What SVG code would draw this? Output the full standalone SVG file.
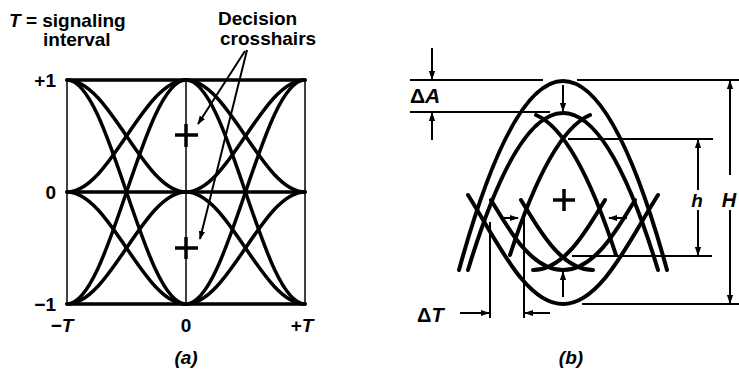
<svg xmlns="http://www.w3.org/2000/svg" width="739" height="370" viewBox="0 0 739 370">
<defs>
<style>
.t{font-family:"Liberation Sans",Arial,sans-serif;font-weight:bold;fill:#000}
.it{font-style:italic}
.c{fill:none;stroke:#000;stroke-width:3.5;stroke-linecap:round}
.cb{fill:none;stroke:#000;stroke-width:4;stroke-linecap:round}
.ln{fill:none;stroke:#000;stroke-width:2}
.thin{fill:none;stroke:#000;stroke-width:1.5}
.ch{fill:none;stroke:#000;stroke-width:3.5}
</style>
<marker id="ah2" viewBox="0 0 10 10" refX="9" refY="5" markerWidth="9" markerHeight="9" orient="auto-start-reverse" markerUnits="userSpaceOnUse">
<path d="M0,1.5 L10,5 L0,8.5 z" fill="#000"/>
</marker>
</defs>
<rect width="739" height="370" fill="#fff"/>

<g id="panel-a">
<g id="a-frame">
<line class="thin" x1="67" y1="80" x2="67" y2="304"/>
<line class="thin" x1="305" y1="80" x2="305" y2="304"/>
<line class="thin" x1="186" y1="80" x2="186" y2="304"/>
<line class="c" x1="67" y1="80" x2="305" y2="80"/>
<line class="c" x1="67" y1="192" x2="305" y2="192"/>
<line class="c" x1="67" y1="304" x2="305" y2="304"/>
</g>
<g id="a-traces">
<path class="c" d="M67,80 C110,80 143,192 186,192"/>
<path class="c" d="M67,80 C110,80 143,304 186,304"/>
<path class="c" d="M67,192 C110,192 143,80 186,80"/>
<path class="c" d="M67,192 C110,192 143,304 186,304"/>
<path class="c" d="M67,304 C110,304 143,80 186,80"/>
<path class="c" d="M67,304 C110,304 143,192 186,192"/>
<path class="c" d="M186,80 C229,80 262,192 305,192"/>
<path class="c" d="M186,80 C229,80 262,304 305,304"/>
<path class="c" d="M186,192 C229,192 262,80 305,80"/>
<path class="c" d="M186,192 C229,192 262,304 305,304"/>
<path class="c" d="M186,304 C229,304 262,80 305,80"/>
<path class="c" d="M186,304 C229,304 262,192 305,192"/>
</g>
<g id="a-crosshair-upper">
<line class="ch" x1="175" y1="135" x2="198" y2="135"/>
<line class="ch" x1="186" y1="124" x2="186" y2="147"/>
</g>
<g id="a-crosshair-lower">
<line class="ch" x1="175" y1="248" x2="198" y2="248"/>
<line class="ch" x1="186" y1="237" x2="186" y2="259"/>
</g>
<g id="a-pointers">
<line class="ln" x1="245" y1="51" x2="198" y2="124" marker-end="url(#ah2)"/>
<line class="ln" x1="247" y1="50" x2="200" y2="239" marker-end="url(#ah2)"/>
</g>
<g id="a-labels">
<text class="t" x="9" y="27" font-size="19"><tspan class="it">T</tspan> = signaling</text>
<text class="t" x="43" y="46" font-size="19">interval</text>
<text class="t" x="218" y="25" font-size="19">Decision</text>
<text class="t" x="220" y="45" font-size="19">crosshairs</text>
<text class="t" x="56" y="87" font-size="19" text-anchor="end">+1</text>
<text class="t" x="56" y="199" font-size="19" text-anchor="end">0</text>
<text class="t" x="56" y="311" font-size="19" text-anchor="end">−1</text>
<text class="t" x="62" y="332" font-size="19" text-anchor="middle">−<tspan class="it">T</tspan></text>
<text class="t" x="186" y="332" font-size="19" text-anchor="middle">0</text>
<text class="t" x="302" y="332" font-size="19" text-anchor="middle">+<tspan class="it">T</tspan></text>
<text class="t it" x="186" y="364" font-size="19" text-anchor="middle">(a)</text>
</g>
</g>

<g id="panel-b">
<g id="b-traces">
<path class="cb" d="M459,270 Q563,-108 667,270"/>
<path class="cb" d="M468,270 Q563,-44 658,270"/>
<path class="cb" d="M536,115 Q576,132 616,255"/>
<path class="cb" d="M590,115 Q550,132 510,255"/>
<path class="cb" d="M468,195 C496,239 525,304 563,304 C601,304 630,239 658,195"/>
<path class="cb" d="M491,200 C507,226 530,270 563,270 C596,270 619,226 635,200"/>
<path class="cb" d="M533,270 C566,270 589,226 605,200"/>
<path class="cb" d="M593,270 C560,270 537,226 521,200"/>
</g>
<g id="b-crosshair">
<line class="ch" x1="553" y1="200" x2="575" y2="200"/>
<line class="ch" x1="564" y1="189" x2="564" y2="211"/>
</g>
<g id="b-dimension-lines">
<line class="ln" x1="410" y1="80" x2="543" y2="80"/>
<line class="ln" x1="577" y1="80" x2="739" y2="80"/>
<line class="ln" x1="410" y1="112" x2="550" y2="112"/>
<line class="ln" x1="568" y1="139" x2="713" y2="139"/>
<line class="ln" x1="572" y1="256" x2="712" y2="256"/>
<line class="ln" x1="582" y1="304" x2="739" y2="304"/>
<line class="ln" x1="490" y1="222" x2="490" y2="318"/>
<line class="ln" x1="524" y1="216" x2="524" y2="318"/>
</g>
<g id="b-arrows">
<line class="ln" x1="432" y1="48" x2="432" y2="79" marker-end="url(#ah2)"/>
<line class="ln" x1="432" y1="140" x2="432" y2="113" marker-end="url(#ah2)"/>
<line class="ln" x1="563" y1="85" x2="563" y2="111" marker-end="url(#ah2)"/>
<line class="ln" x1="698" y1="190" x2="698" y2="140" marker-end="url(#ah2)"/>
<line class="ln" x1="698" y1="210" x2="698" y2="255" marker-end="url(#ah2)"/>
<line class="ln" x1="730" y1="175" x2="730" y2="81" marker-end="url(#ah2)"/>
<line class="ln" x1="730" y1="210" x2="730" y2="303" marker-end="url(#ah2)"/>
<line class="ln" x1="460" y1="313" x2="489" y2="313" marker-end="url(#ah2)"/>
<line class="ln" x1="550" y1="313" x2="525" y2="313" marker-end="url(#ah2)"/>
<line class="ln" x1="500" y1="218" x2="518" y2="218" marker-end="url(#ah2)"/>
<line class="ln" x1="627" y1="218" x2="609" y2="218" marker-end="url(#ah2)"/>
<line class="ln" x1="563" y1="297" x2="563" y2="272" marker-end="url(#ah2)"/>
</g>
<g id="b-labels">
<text class="t" x="410" y="103" font-size="21">Δ<tspan class="it">A</tspan></text>
<text class="t" x="417" y="322" font-size="20">Δ<tspan class="it">T</tspan></text>
<text class="t it" x="697" y="207" font-size="19" text-anchor="middle">h</text>
<text class="t it" x="729" y="207" font-size="20" text-anchor="middle">H</text>
<text class="t it" x="571" y="364" font-size="19" text-anchor="middle">(b)</text>
</g>
</g>
</svg>
